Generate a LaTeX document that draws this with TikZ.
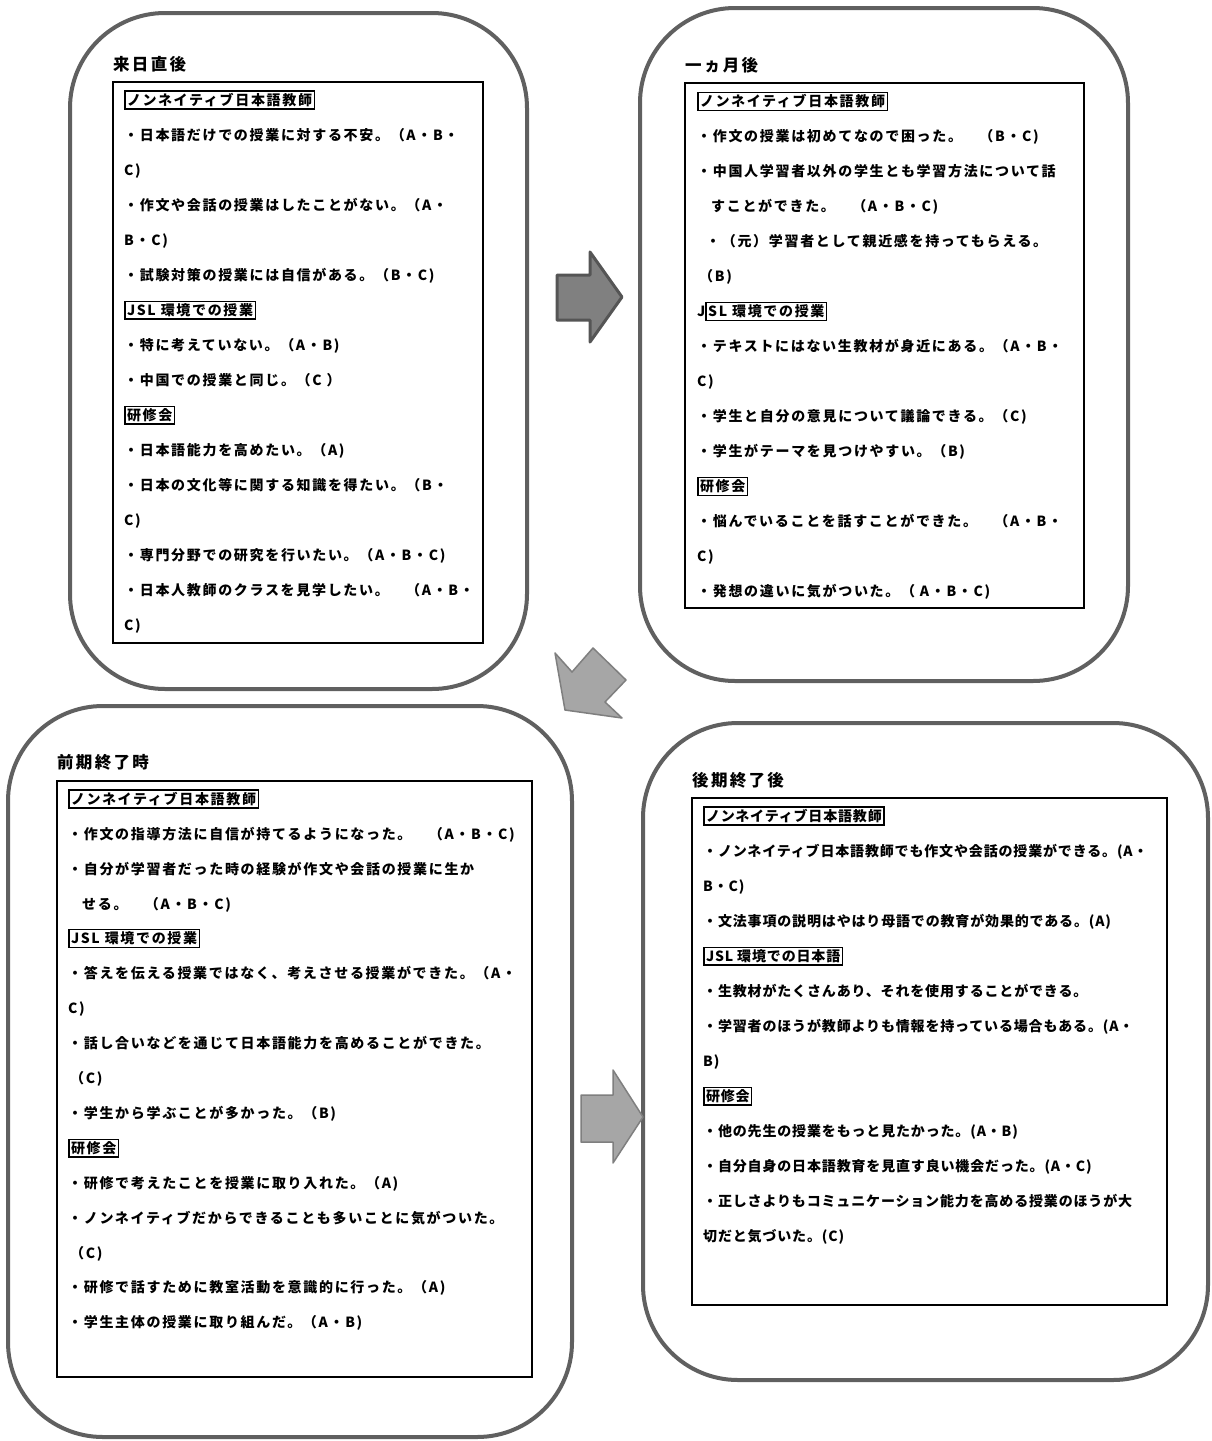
\documentclass[tikz,border=0pt]{standalone}
\usepackage{fontspec}
\newfontfamily\jpA{Noto Sans CJK JP}[LetterSpace=12]
\newfontfamily\jpD{Noto Sans CJK JP}[LetterSpace=6]
\newfontfamily\jpT{Noto Sans CJK JP}[LetterSpace=14]
\definecolor{outergray}{RGB}{96,96,96}
\definecolor{arrAfill}{RGB}{128,128,128}
\definecolor{arrAline}{RGB}{85,85,85}
\definecolor{arrBfill}{RGB}{166,166,166}
\definecolor{arrBline}{RGB}{127,127,127}
\setlength{\fboxsep}{1.5pt}
\setlength{\fboxrule}{1.3pt}
\tikzset{
  outerbox/.style={draw=outergray, line width=4pt, rounded corners=95pt},
  innerbox/.style={draw=black, line width=1.8pt},
  txt/.style={anchor=west, inner sep=0pt, text height=12.3pt, text depth=1.7pt,
    font=\jpA\bfseries\fontsize{14pt}{14pt}\selectfont},
  txtD/.style={txt, font=\jpD\bfseries\fontsize{14pt}{14pt}\selectfont},
  ttl/.style={anchor=west, inner sep=0pt, font=\jpT\bfseries\fontsize{16.5pt}{16.5pt}\selectfont},
  blockA/.style={fill=arrAfill, draw=arrAline, line width=3pt, line join=round},
  blockB/.style={fill=arrBfill, draw=arrBline, line width=1.5pt, line join=round},
}
\begin{document}
\begin{tikzpicture}[x=1pt, y=-1pt]
\useasboundingbox[fill=white] (0,0) rectangle (1212,1441);

% outer rounded boxes
\draw[outerbox] (70,13) rectangle (527,689);
\draw[outerbox] (640,8) rectangle (1128,681);
\draw[outerbox] (8,706) rectangle (572,1437);
\draw[outerbox] (643,723) rectangle (1208,1380);

% inner frames
\draw[innerbox] (113,82) rectangle (483,643);
\draw[innerbox] (685,83) rectangle (1084,608);
\draw[innerbox] (57,781) rectangle (532,1377);
\draw[innerbox] (692,798) rectangle (1167,1305);

% titles
\node[ttl] (t1) at (113,64) {来日直後};
\node[ttl] (t2) at (685,65) {一ヵ月後};
\node[ttl] (t3) at (57,762) {前期終了時};
\node[ttl] (t4) at (692,780) {後期終了後};

% box 1
\foreach \s [count=\i] in {
  {\fbox{ノンネイティブ日本語教師}},
  {・日本語だけでの授業に対する不安。（A・B・},
  {C)},
  {・作文や会話の授業はしたことがない。（A・},
  {B・C)},
  {・試験対策の授業には自信がある。（B・C)},
  {\fbox{JSL 環境での授業}},
  {・特に考えていない。（A・B)},
  {・中国での授業と同じ。（C ）},
  {\fbox{研修会}},
  {・日本語能力を高めたい。（A)},
  {・日本の文化等に関する知識を得たい。（B・},
  {C)},
  {・専門分野での研究を行いたい。（A・B・C)},
  {・日本人教師のクラスを見学したい。　（A・B・},
  {C)}}
  \node[txt] (a\i) at (124,{100+35*(\i-1)}) {\s};

% box 2
\foreach \s [count=\i] in {
  {\fbox{ノンネイティブ日本語教師}},
  {・作文の授業は初めてなので困った。　（B・C)},
  {・中国人学習者以外の学生とも学習方法について話},
  {\hspace*{14pt}すことができた。　（A・B・C)},
  {\hspace*{9pt}・（元）学習者として親近感を持ってもらえる。},
  {\hspace*{2pt}（B)},
  {J\fbox{SL 環境での授業}},
  {・テキストにはない生教材が身近にある。（A・B・},
  {C)},
  {・学生と自分の意見について議論できる。（C)},
  {・学生がテーマを見つけやすい。（B)},
  {\fbox{研修会}},
  {・悩んでいることを話すことができた。　（A・B・},
  {C)},
  {・発想の違いに気がついた。（ A・B・C)}}
  \node[txt] (b\i) at (697,{101.5+35*(\i-1)}) {\s};

% box 3
\foreach \s [count=\i] in {
  {\fbox{ノンネイティブ日本語教師}},
  {・作文の指導方法に自信が持てるようになった。　（A・B・C)},
  {・自分が学習者だった時の経験が作文や会話の授業に生か},
  {\hspace*{14pt}せる。　（A・B・C)},
  {\fbox{JSL 環境での授業}},
  {・答えを伝える授業ではなく、考えさせる授業ができた。（A・},
  {C)},
  {・話し合いなどを通じて日本語能力を高めることができた。},
  {\hspace*{2pt}（C)},
  {・学生から学ぶことが多かった。（B)},
  {\fbox{研修会}},
  {・研修で考えたことを授業に取り入れた。（A)},
  {・ノンネイティブだからできることも多いことに気がついた。},
  {\hspace*{2pt}（C)},
  {・研修で話すために教室活動を意識的に行った。（A)},
  {・学生主体の授業に取り組んだ。（A・B)}}
  \node[txt] (c\i) at (68,{799+34.9*(\i-1)}) {\s};

% box 4
\foreach \s [count=\i] in {
  {\fbox{ノンネイティブ日本語教師}},
  {・ノンネイティブ日本語教師でも作文や会話の授業ができる。(A・},
  {B・C)},
  {・文法事項の説明はやはり母語での教育が効果的である。(A)},
  {\fbox{JSL 環境での日本語}},
  {・生教材がたくさんあり、それを使用することができる。},
  {・学習者のほうが教師よりも情報を持っている場合もある。(A・},
  {B)},
  {\fbox{研修会}},
  {・他の先生の授業をもっと見たかった。(A・B)},
  {・自分自身の日本語教育を見直す良い機会だった。(A・C)},
  {・正しさよりもコミュニケーション能力を高める授業のほうが大},
  {切だと気づいた。(C)}}
  \node[txtD] (d\i) at (703,{816+35*(\i-1)}) {\s};

% block arrows
\draw[blockA] (557,275) -- (590,275) -- (590,252) -- (622,297) -- (590,342) -- (590,320) -- (557,320) -- cycle;
\draw[blockB] (555,653) -- (572,672) -- (593,648) -- (626,680) -- (605,702) -- (622,718) -- (565,710) -- cycle;
\draw[blockB] (581,1095) -- (613,1095) -- (613,1070) -- (643,1117) -- (613,1163) -- (613,1142) -- (581,1142) -- cycle;
\end{tikzpicture}
\end{document}
